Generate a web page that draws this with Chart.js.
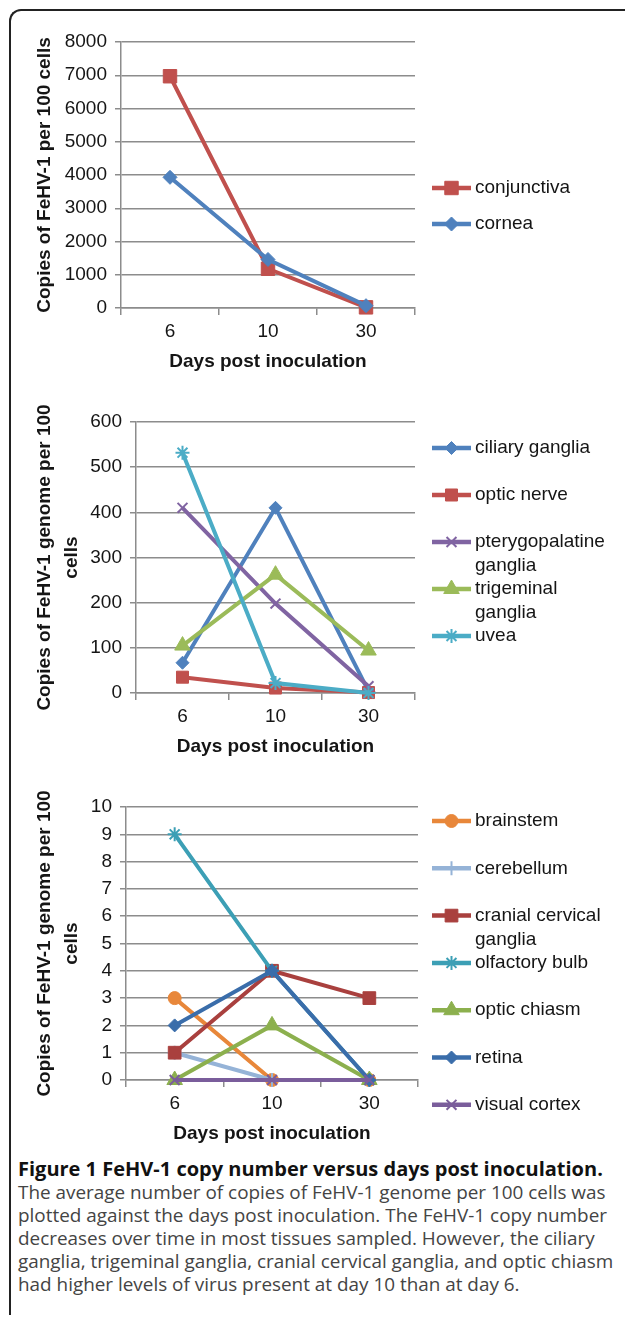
<!DOCTYPE html>
<html>
<head>
<meta charset="utf-8">
<script src="https://cdn.jsdelivr.net/npm/chart.js@4.4.1/dist/chart.umd.min.js"></script>
<style>
  body { margin: 0; width: 625px; height: 1321px; background: #fff; position: relative; overflow: hidden; }
  .frame { position: absolute; left: 9px; top: 9px; width: 700px; height: 1304px;
           border-top: 2px solid #222; border-left: 2px solid #222; border-top-left-radius: 12px; }
  canvas { position: absolute; left: 0; }
  #caption { position: absolute; left: 18px; top: 1156px; font-family: 'Open Sans', sans-serif;
             font-size: 18.9px; line-height: 23px; color: #444; white-space: nowrap; }
  #caption .title { color: #111; font-size: 20px; font-weight: bold; line-height: 25px; }
</style>
</head>
<body>
<div class="frame"></div>
<canvas id="chart1" width="625" height="385" style="top:0px"></canvas>
<canvas id="chart2" width="625" height="385" style="top:385px"></canvas>
<canvas id="chart3" width="625" height="385" style="top:770px"></canvas>
<div id="caption">
  <div class="title">Figure 1 FeHV-1 copy number versus days post inoculation.</div>
  The average number of copies of FeHV-1 genome per 100 cells was<br>
  plotted against the days post inoculation. The FeHV-1 copy number<br>
  decreases over time in most tissues sampled. However, the ciliary<br>
  ganglia, trigeminal ganglia, cranial cervical ganglia, and optic chiasm<br>
  had higher levels of virus present at day 10 than at day 6.
</div>
<script>
// days post inoculation (categories)
const days = ['6', '10', '30'];

// panel 1 - eye surface
const conjunctiva = [6970, 1180, 20];
const cornea = [3930, 1460, 70];

// panel 2 - ocular tissues / ganglia
const ciliaryGanglia = [67, 410, 4];
const opticNerve = [35, 11, 1];
const pterygopalatineGanglia = [410, 198, 15];
const trigeminalGanglia = [105, 262, 94];
const uvea = [532, 22, 0];

// panel 3 - brain / nervous tissue
const brainstem = [3, 0, 0];
const cerebellum = [1, 0, 0];
const cranialCervicalGanglia = [1, 4, 3];
const olfactoryBulb = [9, 4, 0];
const opticChiasm = [0, 2, 0];
const retina = [2, 4, 0];
const visualCortex = [0, 0, 0];

const font = '"Liberation Sans", Arial, sans-serif';
const gridColor = '#8c8c8c';
const textColor = '#151515';

function series(label, data, color, style, radius, order) {
    return {
        label, data,
        borderColor: color,
        backgroundColor: color,
        borderWidth: 4,
        pointStyle: style,
        pointRadius: radius,
        pointBorderWidth: (style === 'cross' || style === 'crossRot' || style === 'star') ? 2 : 1,
        pointBackgroundColor: color,
        pointBorderColor: color,
        tension: 0,
        clip: false,
        order: -order
    };
}

function wrapText(ctx, text, maxW) {
    const words = text.split(' ');
    const lines = [];
    let line = '';
    words.forEach(w => {
        const test = line ? line + ' ' + w : w;
        if (line && ctx.measureText(test).width > maxW) {
            lines.push(line);
            line = w;
        } else {
            line = test;
        }
    });
    lines.push(line);
    return lines;
}

// legend drawn beside the plot: line + marker + label
const sideLegend = {
    id: 'sideLegend',
    afterDraw(chart, args, opts) {
        const ctx = chart.ctx;
        ctx.save();
        ctx.font = '19px ' + font;
        ctx.textBaseline = 'middle';
        chart.data.datasets.forEach((ds, i) => {
            const y = opts.top + i * opts.gap;
            ctx.strokeStyle = ds.borderColor;
            ctx.lineWidth = 4.5;
            ctx.beginPath();
            ctx.moveTo(432, y);
            ctx.lineTo(471, y);
            ctx.stroke();
            ctx.fillStyle = ds.borderColor;
            ctx.lineWidth = ds.pointBorderWidth;
            Chart.helpers.drawPoint(ctx, {
                pointStyle: ds.pointStyle,
                radius: ds.pointRadius,
                borderWidth: ds.pointBorderWidth,
                rotation: 0
            }, 451.5, y);
            ctx.fillStyle = textColor;
            wrapText(ctx, ds.label, 140).forEach((l, k) => {
                ctx.fillText(l, 475, y + k * 24);
            });
        });
        ctx.restore();
    }
};

function makeChart(id, datasets, yMax, yStep, yTitle, plot, legend) {
    const ctx = document.getElementById(id).getContext('2d');
    return new Chart(ctx, {
        type: 'line',
        data: { labels: days, datasets },
        plugins: [sideLegend],
        options: {
            responsive: false,
            animation: false,
            events: [],
            layout: { padding: { left: 0, top: plot.top, right: 625 - plot.right, bottom: 385 - plot.bottom - 70 } },
            plugins: { legend: { display: false }, tooltip: { enabled: false }, sideLegend: legend },
            scales: {
                x: {
                    offset: true,
                    grid: { offset: true, drawOnChartArea: false, drawTicks: true, tickLength: 7, color: gridColor, lineWidth: 1.5 },
                    border: { color: gridColor, width: 1.5 },
                    ticks: { color: textColor, font: { family: font, size: 19 }, padding: 5 },
                    title: { display: true, text: 'Days post inoculation', color: textColor,
                             font: { family: font, size: 19, weight: 'bold' }, padding: { top: 0, bottom: 4.6 } },
                    afterFit(scale) { scale.height = 70; }
                },
                y: {
                    min: 0, max: yMax,
                    ticks: { stepSize: yStep, color: textColor, font: { family: font, size: 19 }, padding: 8,
                             callback: v => String(v) },
                    grid: { color: gridColor, lineWidth: 1.5, tickLength: 6 },
                    border: { color: gridColor, width: 1.5 },
                    title: { display: true, text: yTitle, color: textColor,
                             font: { family: font, size: 19, weight: 'bold', lineHeight: 1.42 },
                             padding: { top: 31.5, bottom: 0 } },
                    afterFit(scale) { scale.width = plot.left; }
                }
            }
        }
    });
}

makeChart('chart1', [
    series('conjunctiva', conjunctiva, '#C0504D', 'rect', 9.5, 0),
    series('cornea', cornea, '#4F81BD', 'rectRot', 7, 1)
], 8000, 1000, 'Copies of FeHV-1 per 100 cells',
   { left: 121, right: 415, top: 42, bottom: 308 }, { top: 188, gap: 36 });

makeChart('chart2', [
    series('ciliary ganglia', ciliaryGanglia, '#4F81BD', 'rectRot', 6.5, 0),
    series('optic nerve', opticNerve, '#C0504D', 'rect', 8.5, 1),
    series('pterygopalatine ganglia', pterygopalatineGanglia, '#8064A2', 'crossRot', 7, 2),
    series('trigeminal ganglia', trigeminalGanglia, '#9BBB59', 'triangle', 9, 3),
    series('uvea', uvea, '#4BACC6', 'star', 7, 4)
], 600, 100, ['Copies of FeHV-1 genome per 100', 'cells'],
   { left: 136, right: 415, top: 37, bottom: 308 }, { top: 63, gap: 47 });

makeChart('chart3', [
    series('brainstem', brainstem, '#E8873A', 'circle', 6.5, 0),
    series('cerebellum', cerebellum, '#95B3D7', 'cross', 7, 1),
    series('cranial cervical ganglia', cranialCervicalGanglia, '#A9403E', 'rect', 9, 2),
    series('olfactory bulb', olfactoryBulb, '#3C9FB5', 'star', 7, 3),
    series('optic chiasm', opticChiasm, '#8CB04E', 'triangle', 9, 4),
    series('retina', retina, '#3A6DAA', 'rectRot', 6.5, 5),
    series('visual cortex', visualCortex, '#7A5D9B', 'crossRot', 7, 6)
], 10, 1, ['Copies of FeHV-1 genome per 100', 'cells'],
   { left: 126, right: 418, top: 37, bottom: 310 }, { top: 51, gap: 47.3 });
</script>
</body>
</html>
